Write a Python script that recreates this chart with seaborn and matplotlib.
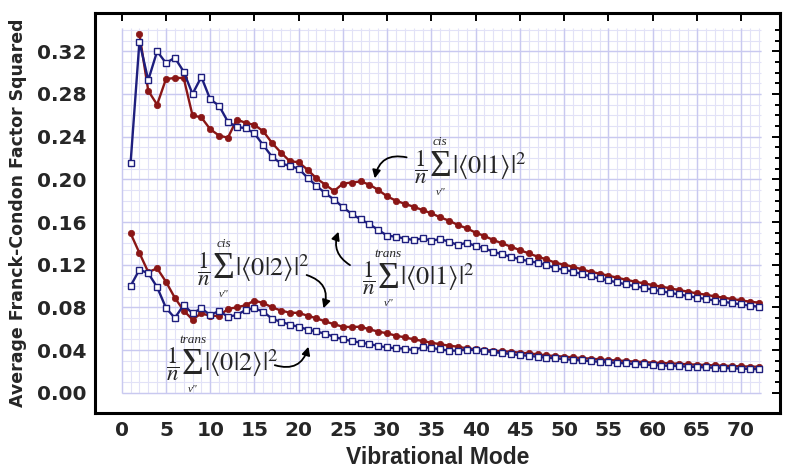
import matplotlib
matplotlib.use('Agg')
import matplotlib.pyplot as plt
from matplotlib.ticker import FixedLocator
import numpy as np
import seaborn as sns

# vibrational mode index
modes = np.arange(1, 73)

# <0|1> squared, cis (no value for mode 1)
cis_01 = [np.nan, 0.336, 0.283, 0.270, 0.294, 0.295, 0.295, 0.260, 0.258, 0.247,
          0.241, 0.239, 0.256, 0.253, 0.251, 0.245, 0.234, 0.225, 0.217, 0.216,
          0.209, 0.201, 0.195, 0.189, 0.196, 0.197, 0.198, 0.195, 0.190, 0.184,
          0.180, 0.177, 0.1743, 0.1712, 0.1681, 0.1644, 0.1612, 0.1572, 0.1541, 0.150,
          0.1469, 0.1431, 0.140, 0.1368, 0.1337, 0.1306, 0.1275, 0.125, 0.1218, 0.1200,
          0.1181, 0.1156, 0.1134, 0.1116, 0.1097, 0.1078, 0.1059, 0.1041, 0.1025, 0.1009,
          0.0994, 0.0978, 0.0962, 0.0947, 0.0931, 0.0919, 0.0903, 0.0891, 0.0878, 0.0866,
          0.0853, 0.0844]

# <0|1> squared, trans
trans_01 = [0.215, 0.329, 0.293, 0.320, 0.309, 0.314, 0.301, 0.280, 0.296, 0.275,
            0.269, 0.254, 0.249, 0.248, 0.243, 0.232, 0.221, 0.215, 0.2125, 0.210,
            0.2015, 0.194, 0.187, 0.181, 0.174, 0.1675, 0.1625, 0.158, 0.1525, 0.1472,
            0.1462, 0.1445, 0.1431, 0.1447, 0.1425, 0.1440, 0.1415, 0.1384, 0.1406, 0.1375,
            0.1353, 0.1322, 0.1297, 0.1275, 0.125, 0.1234, 0.1218, 0.1197, 0.1166, 0.1152,
            0.1135, 0.1112, 0.1090, 0.1071, 0.1052, 0.1034, 0.1015, 0.0998, 0.0982, 0.0966,
            0.0951, 0.0936, 0.0921, 0.0906, 0.0891, 0.0879, 0.0864, 0.0852, 0.0840, 0.0828,
            0.0816, 0.0806]

# <0|2> squared, cis
cis_02 = [0.1494, 0.131, 0.113, 0.1166, 0.104, 0.089, 0.077, 0.0685, 0.0744, 0.072,
          0.072, 0.0785, 0.080, 0.082, 0.0864, 0.084, 0.080, 0.077, 0.075, 0.0748,
          0.0722, 0.0698, 0.0668, 0.0642, 0.0618, 0.0615, 0.0619, 0.0594, 0.0572, 0.0557,
          0.0534, 0.0519, 0.0500, 0.0485, 0.0469, 0.0454, 0.0441, 0.0431, 0.0416, 0.0407,
          0.0400, 0.0394, 0.0389, 0.0384, 0.0375, 0.0369, 0.0360, 0.0350, 0.0344, 0.0338,
          0.0331, 0.0325, 0.0319, 0.0313, 0.0306, 0.0303, 0.0297, 0.0291, 0.0288, 0.0281,
          0.0278, 0.0275, 0.0272, 0.0266, 0.0263, 0.0260, 0.0256, 0.0253, 0.0250, 0.0247,
          0.0245, 0.0243]

# <0|2> squared, trans
trans_02 = [0.100, 0.1153, 0.112, 0.099, 0.0795, 0.070, 0.0822, 0.0744, 0.0791, 0.0728,
            0.0766, 0.0712, 0.0728, 0.0775, 0.0791, 0.0760, 0.0692, 0.0665, 0.0638, 0.0618,
            0.0592, 0.0574, 0.0552, 0.0525, 0.0500, 0.0485, 0.0469, 0.0456, 0.0438, 0.0425,
            0.0416, 0.0414, 0.0398, 0.0428, 0.0420, 0.0406, 0.0394, 0.0394, 0.0404, 0.0398,
            0.0390, 0.0380, 0.0372, 0.0362, 0.0352, 0.0346, 0.0337, 0.0328, 0.0322, 0.0315,
            0.0308, 0.0302, 0.0296, 0.0290, 0.0284, 0.0280, 0.0274, 0.0268, 0.0265, 0.0259,
            0.0255, 0.0252, 0.0249, 0.0244, 0.0241, 0.0237, 0.0234, 0.0231, 0.0228, 0.0225,
            0.0222, 0.0220]

x_major = np.arange(0, 71, 5)
x_minor = np.arange(0, 73, 1)
y_major = np.round(np.arange(0, 0.33, 0.04), 2)
y_minor = np.round(np.arange(0, 0.345, 0.01), 2)

RED = '#8a1616'
BLUE = '#1e1e7e'

sns.set_style('white')
plt.rcParams['font.family'] = ['DejaVu Sans']
plt.rcParams['mathtext.fontset'] = 'stix'

fig = plt.figure(figsize=(8, 4.76), dpi=100)
ax = fig.add_axes([0.11875, 0.1324, 0.85625, 0.8403])

# lavender graph-paper grid, only over the data region
ax.vlines(x_minor, 0, 0.342, color='#e2e2f7', lw=0.8, zorder=0)
ax.hlines(y_minor, 0, 72.3, color='#e2e2f7', lw=0.8, zorder=0)
ax.vlines(x_major, 0, 0.342, color='#c9c9f0', lw=1.0, zorder=0)
ax.hlines(y_major, 0, 72.3, color='#c9c9f0', lw=1.0, zorder=0)

circ = dict(color=RED, linewidth=1.7, marker='o', markersize=4.6,
            markeredgecolor=RED, markeredgewidth=0.5, zorder=3)
sq = dict(color=BLUE, linewidth=1.7, marker='s', markersize=4.8,
          markerfacecolor='white', markeredgecolor=BLUE, markeredgewidth=1.0, zorder=3)

sns.lineplot(x=modes, y=cis_01, ax=ax, **circ)
sns.lineplot(x=modes, y=trans_01, ax=ax, **sq)
sns.lineplot(x=modes, y=cis_02, ax=ax, **circ)
sns.lineplot(x=modes, y=trans_02, ax=ax, **sq)


def formula(x, y, top, k):
    # 1/n  sum_{v''}^{top} |<0|k>|^2, built from pieces so the sum sign can be large
    opts = dict(xycoords='data', textcoords='offset points', ha='center', va='center')
    ax.annotate(r'$\dfrac{1}{n}$', (x, y), xytext=(-33, 0), fontsize=16.5, **opts)
    ax.annotate('Σ', (x, y), xytext=(-19, 0), fontsize=27, family='Liberation Serif', **opts)
    ax.annotate(top, (x, y), xytext=(-19, 18), fontsize=9.5, style='italic',
                family='Liberation Serif', **opts)
    ax.annotate('v"', (x, y), xytext=(-19, -18), fontsize=8, style='italic',
                family='Liberation Serif', **opts)
    ax.annotate(r'$|\langle 0|%d\rangle|^{2}$' % k, (x, y),
                xytext=(16, 1), fontsize=19, **opts)


formula(39.0, 0.2115, 'cis', 1)
formula(33.1, 0.107, 'trans', 1)
formula(14.5, 0.1159, 'cis', 2)
formula(11.0, 0.0264, 'trans', 2)

arrow = dict(arrowstyle='-|>', color='black', lw=1.3, shrinkA=0, shrinkB=0,
             mutation_scale=12)
ax.annotate('', xy=(28.6, 0.2009), xytext=(32.2, 0.2206),
            arrowprops=dict(connectionstyle='arc3,rad=0.5', **arrow))
ax.annotate('', xy=(24.5, 0.1509), xytext=(25.8, 0.1196),
            arrowprops=dict(connectionstyle='arc3,rad=-0.4', **arrow))
ax.annotate('', xy=(22.8, 0.0791), xytext=(20.9, 0.1103),
            arrowprops=dict(connectionstyle='arc3,rad=-0.5', **arrow))
ax.annotate('', xy=(21.1, 0.0431), xytext=(17.3, 0.0258),
            arrowprops=dict(connectionstyle='arc3,rad=0.5', **arrow))

ax.set_xlim(-3.02, 74.4)
ax.set_ylim(-0.019, 0.3559)

ax.xaxis.set_major_locator(FixedLocator(x_major))
ax.xaxis.set_minor_locator(FixedLocator(x_minor))
ax.yaxis.set_major_locator(FixedLocator(y_major))
ax.yaxis.set_minor_locator(FixedLocator(y_minor))
ax.set_xticklabels([str(v) for v in x_major])
ax.set_yticklabels([f'{v:.2f}' for v in y_major])

ax.tick_params(which='both', direction='in', top=True, right=True, width=1.4,
               color='black', labelsize=14.5, pad=6)
ax.tick_params(which='major', length=6)
ax.tick_params(which='minor', length=3.5, top=False)
for lbl in ax.get_xticklabels() + ax.get_yticklabels():
    lbl.set_fontweight('bold')

for side in ['left', 'right', 'top', 'bottom']:
    ax.spines[side].set_visible(True)
    ax.spines[side].set_linewidth(2.2)
    ax.spines[side].set_color('black')

ax.set_xlabel('Vibrational Mode', fontsize=16.5, fontweight='bold', labelpad=4,
              family='Liberation Sans')
ax.set_ylabel('Average Franck-Condon Factor Squared', fontsize=12.5, fontweight='bold',
              labelpad=7)

plt.savefig('out.png', dpi=100)
